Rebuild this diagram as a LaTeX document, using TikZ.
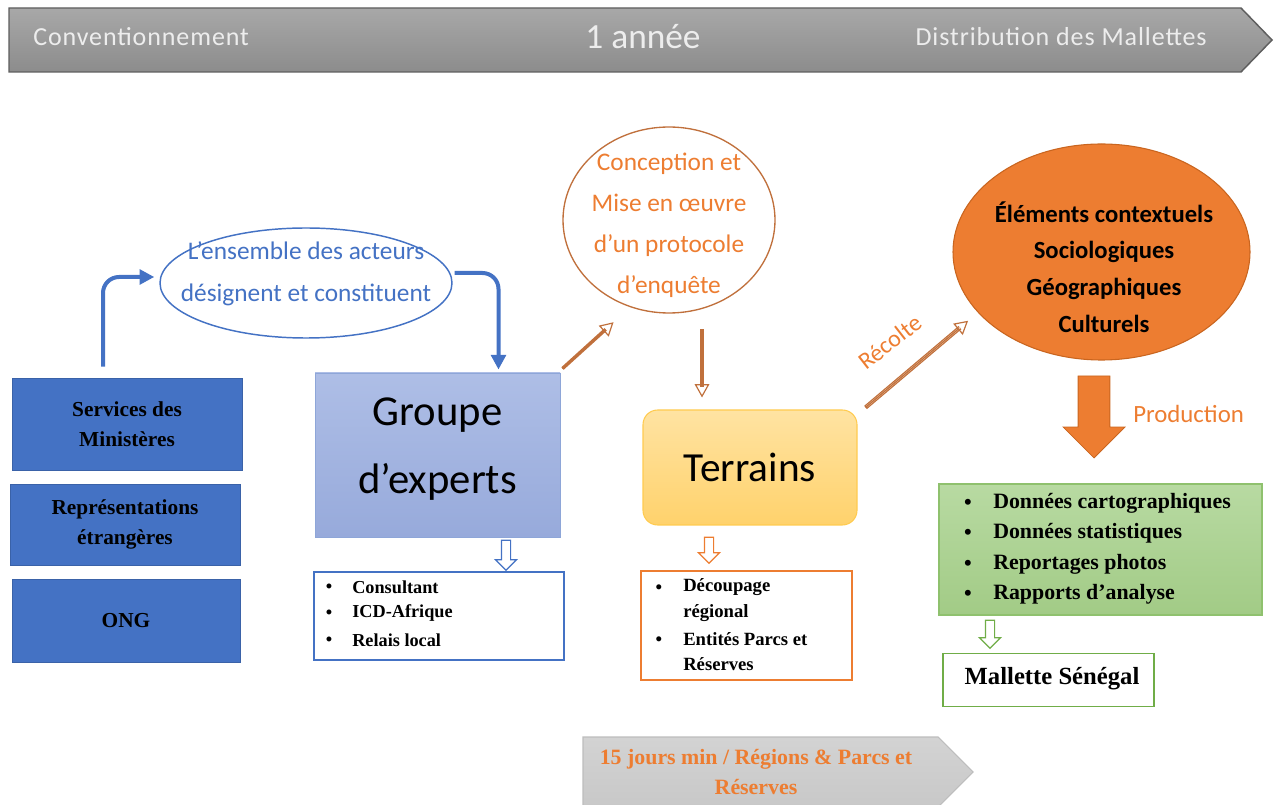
\documentclass[tikz,border=0pt]{standalone}
\usepackage{fontspec}
\setmainfont{Liberation Serif}
\newfontfamily\calib{Carlito}
\newfontfamily\calibsp{Carlito}[LetterSpace=3.5]
\usetikzlibrary{shapes.geometric,shapes.arrows,arrows.meta,calc}
\newcommand{\setfs}[2]{\fontsize{#1}{#2}\selectfont}
\definecolor{cblue}{HTML}{4472C4}
\definecolor{cblueD}{HTML}{3A62A8}
\definecolor{cgrpT}{HTML}{AEBEE6}
\definecolor{cgrpB}{HTML}{97AADB}
\definecolor{cgrpL}{HTML}{8EA6D8}
\definecolor{corange}{HTML}{ED7D31}
\definecolor{corangeD}{HTML}{C9651F}
\definecolor{cbrown}{HTML}{C0703C}
\definecolor{cbrownL}{HTML}{F2CBAE}
\definecolor{cyelT}{HTML}{FFE3A2}
\definecolor{cyelB}{HTML}{FFD26C}
\definecolor{cyelL}{HTML}{FFCB50}
\definecolor{cgreenT}{HTML}{B8DAA2}
\definecolor{cgreenB}{HTML}{A2CB86}
\definecolor{cgreenL}{HTML}{8FC16E}
\definecolor{cgreen}{HTML}{70AD47}
\definecolor{cbarT}{HTML}{A8A8A8}
\definecolor{cbarB}{HTML}{8C8C8C}
\definecolor{cbarL}{HTML}{5E5E5E}
\definecolor{cbarText}{HTML}{EDEDED}
\definecolor{cgrayT}{HTML}{D3D3D3}
\definecolor{cgrayB}{HTML}{C8C8C8}
\definecolor{cgrayL}{HTML}{BDBDBD}
\tikzset{
  lbox/.style={draw=cblueD, fill=cblue, line width=0.6pt, align=center, text=black,
    font=\bfseries\setfs{16}{22.5}},
  bartext/.style={text=cbarText, inner sep=0, font=\calibsp\setfs{19.5}{23}},
  listitem/.style={anchor=west, inner sep=0, text=black},
  bul/.style={inner sep=0, text=black},
  harrow/.style={single arrow, inner xsep=0pt, inner ysep=3pt, minimum width=0pt,
    single arrow head extend=4.5pt, fill=white, line width=0.9pt, rotate=-90},
  bluearrow/.style={cblue, line width=3pt, rounded corners=12pt,
    -{Triangle[length=11pt,width=11pt]}},
  brshaft/.style={cbrown, line width=2.6pt},
  brhead/.style={cbrown, line width=0.9pt, -{Triangle[open,length=10pt,width=11pt]}},
}
\begin{document}
\begin{tikzpicture}[x=0.75pt,y=-0.75pt]
\useasboundingbox (0,0) rectangle (1279,805);

% top bar
\path[draw=cbarL, line width=1.1pt, top color=cbarT, bottom color=cbarB]
  (9,8) -- (1241,8) -- (1272,40) -- (1241,72) -- (9,72) -- cycle;
\node[bartext, anchor=west] (conv) at (33,37) {Conventionnement};
\node[bartext, font=\calib\setfs{26.5}{30}] (annee) at (643,37) {1 année};
\node[bartext, anchor=east] (distr) at (1207,37) {Distribution des Mallettes};

% left boxes
\node[lbox, minimum width=172.5pt, minimum height=69pt] (svc) at (127,424) {Services des\\Ministères};
\node[lbox, minimum width=172.5pt, minimum height=60.75pt] (rep) at (125,524.5) {Représentations\\étrangères};
\node[lbox, minimum width=171pt, minimum height=62.25pt] (ong) at (126,620.5) {ONG};

% blue ellipse
\node[ellipse, draw=cblue, line width=1.1pt, fill=white, minimum width=219pt, minimum height=82.5pt] (ens) at (306,283) {};
\node[text=cblue, align=center, font=\calib\setfs{19}{31.5}] (ensT) at (306,274) {L’ensemble des acteurs\\désignent et constituent};

% groupe d'experts
\node[draw=cgrpL, line width=0.7pt, top color=cgrpT, bottom color=cgrpB, minimum width=183.75pt, minimum height=123pt] (grp) at (437.5,455) {};
\node[align=center, font=\calib\setfs{32}{51}, text=black] (grpT) at (437.5,449) {Groupe\\d’experts};

% blue arrows
\draw[bluearrow] ($(svc.north)+(-24,-11)$) |- ($(ens.west)+(-5,-6)$);
\draw[bluearrow] ($(ens.east)+(2,-10)$) -| ($(grp.north)+(61,-3)$);

% groupe list
\node[harrow, draw=cblue, minimum height=22.5pt] (ga) at (506,553) {};
\node[draw=cblue, line width=1.1pt, fill=white, minimum width=187.5pt, minimum height=66pt] (glist) at (439,616) {};
\begin{scope}[every node/.append style={font=\bfseries\setfs{13.7}{16}}]
\node[bul] (gb1) at (329,588) {\textbullet};
\node[bul] (gb2) at (329,614) {\textbullet};
\node[bul] (gb3) at (329,641) {\textbullet};
\node[listitem] (gi1) at (352,587) {Consultant};
\node[listitem] (gi2) at (352,613) {ICD-Afrique};
\node[listitem] (gi3) at (352,640) {Relais local};
\end{scope}

% conception ellipse
\node[ellipse, draw=cbrown, line width=1pt, fill=white, minimum width=159pt, minimum height=139.5pt] (conc) at (669,220) {};
\node[text=corange, align=center, font=\calib\setfs{19}{30.75}] (concT) at (669,225) {Conception et\\Mise en œuvre\\d’un protocole\\d’enquête};

% arrow groupe -> conception
\draw[brshaft, shorten >=8pt] ($(grp.north east)+(2,-4)$) -- ($(conc.south west)+(20,36)$);
\draw[brhead] ($(grp.north east)+(2,-4)$) -- ($(conc.south west)+(20,36)$);

% terrains
\node[draw=cyelL, line width=0.8pt, rounded corners=11pt, top color=cyelT, bottom color=cyelB,
  minimum width=160.5pt, minimum height=86.25pt, font=\calib\setfs{31}{36}] (terr) at (750,467.5) {Terrains};

% arrow conception -> terrains
\draw[brshaft, shorten >=8pt] ($(terr.north)+(-48,-80)$) -- ($(terr.north)+(-48,-12)$);
\draw[brhead] ($(terr.north)+(-48,-80)$) -- ($(terr.north)+(-48,-12)$);

% terrains list
\node[harrow, draw=corange, minimum height=19.5pt] (ta) at (709,548) {};
\node[draw=corange, line width=1pt, fill=white, minimum width=158.25pt, minimum height=81.75pt] (tlist) at (746.5,625.5) {};
\begin{scope}[every node/.append style={font=\bfseries\setfs{14}{16}}]
\node[bul] (tb1) at (659,589) {\textbullet};
\node[bul] (tb2) at (659,641) {\textbullet};
\node[listitem] (ti1) at (683,587) {Découpage};
\node[listitem] (ti2) at (683,613) {régional};
\node[listitem] (ti3) at (683,639) {Entités Parcs et};
\node[listitem] (ti4) at (683,664) {Réserves};
\end{scope}

% orange ellipse
\node[ellipse, draw=corangeD, line width=0.8pt, fill=corange, minimum width=222.75pt, minimum height=162pt] (elts) at (1101.5,252) {};
\node[align=center, text=black, font=\calib\bfseries\setfs{18.5}{27.4}] (eltsT) at (1104,267) {Éléments contextuels\\Sociologiques\\Géographiques\\Culturels};

% recolte arrow
\draw[cbrown, line width=3.2pt, shorten >=8pt] ($(terr.north east)+(8,-2)$) -- ($(elts.south west)+(-28,-8)$);
\draw[cbrownL, line width=1.3pt, shorten >=8pt, shorten <=1pt] ($(terr.north east)+(8,-2)$) -- ($(elts.south west)+(-28,-8)$);
\draw[brhead] ($(terr.north east)+(8,-2)$) -- ($(elts.south west)+(-28,-8)$);
\node[text=corange, rotate=38, inner sep=0, font=\calib\setfs{18}{22}] (recolte) at (890,342) {Récolte};

% production arrow
\node[single arrow, inner xsep=0pt, inner ysep=11.6pt, minimum width=0pt, single arrow head extend=11.25pt,
  minimum height=61.5pt, rotate=-90, fill=corange, draw=corangeD, line width=0.6pt] (prod) at (1094,409) {};
\node[anchor=west, inner sep=0, text=corange, font=\calib\setfs{18.6}{22}] (prodT) at (1133,414) {Production};

% green list
\node[draw=cgreenL, line width=0.8pt, top color=cgreenT, bottom color=cgreenB, minimum width=242.25pt, minimum height=98.25pt] (grn) at (1100.5,549.5) {};
\begin{scope}[every node/.append style={font=\bfseries\setfs{16.4}{19}}]
\node[bul] (nb1) at (968,504) {\textbullet};
\node[bul] (nb2) at (968,534) {\textbullet};
\node[bul] (nb3) at (968,565) {\textbullet};
\node[bul] (nb4) at (968,595) {\textbullet};
\node[listitem] (ni1) at (993,503) {Données cartographiques};
\node[listitem] (ni2) at (993,533) {Données statistiques};
\node[listitem] (ni3) at (993,564) {Reportages photos};
\node[listitem] (ni4) at (993,594) {Rapports d’analyse};
\end{scope}

% mallette
\node[harrow, draw=cgreen, minimum height=21pt] (ma) at (990,632) {};
\node[draw=cgreen, line width=1.1pt, fill=white, minimum width=158.25pt, minimum height=39.75pt] (mal) at (1048.5,680) {};
\node[inner sep=0, font=\bfseries\setfs{18.5}{22}] (malT) at (1052,679) {Mallette Sénégal};

% bottom gray arrow
\path[draw=cgrayL, line width=0.8pt, top color=cgrayT, bottom color=cgrayB]
  (583,737) -- (938,737) -- (973,772) -- (938,807) -- (583,807) -- cycle;
\node[text=corange, align=center, font=\bfseries\setfs{16.4}{22.5}] (dur) at (756,772) {15 jours min / Régions \& Parcs et\\Réserves};
\end{tikzpicture}
\end{document}
